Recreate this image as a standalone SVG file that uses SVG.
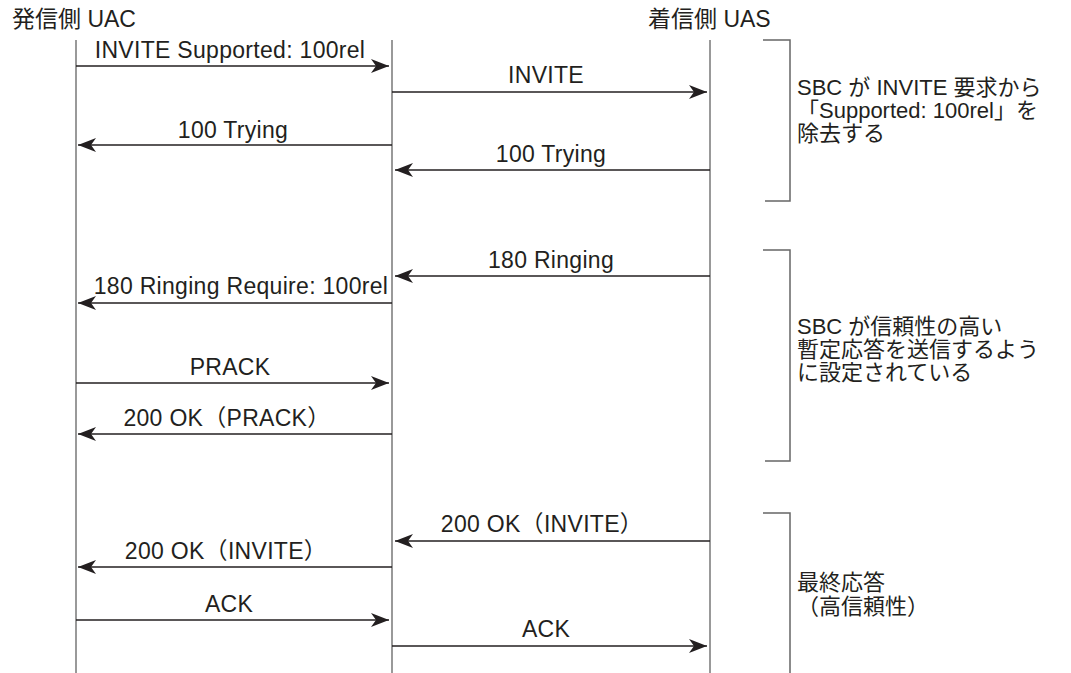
<svg xmlns="http://www.w3.org/2000/svg" width="1071" height="673" viewBox="0 0 1071 673">
<style>
text{font-family:"Liberation Sans","Noto Sans CJK JP",sans-serif;fill:#231f20}
.hdr{font-size:23px}
.lbl{font-size:23px;text-anchor:middle;letter-spacing:0.3px}
.note{font-size:22px}
.life{stroke:#555;stroke-width:1.2;fill:none}
.msg{stroke:#231f20;stroke-width:1.7;fill:none;marker-end:url(#ah)}
.brk{stroke:#666;stroke-width:1.5;fill:none}
</style>
<defs>
<marker id="ah" markerUnits="userSpaceOnUse" viewBox="0 0 19 15" refX="18" refY="7.5" markerWidth="19" markerHeight="15" orient="auto">
<path d="M18,7.5 L0,0.5 L5,7.5 L0,14.5 Z" fill="#231f20"/>
</marker>
</defs>
<rect width="1071" height="673" fill="#fff"/>
<g id="uac">
<text class="hdr" x="12" y="27">発信側 UAC</text>
<line class="life" x1="76" y1="40" x2="76" y2="673"/>
</g>
<g id="sbc">
<line class="life" x1="392" y1="40" x2="392" y2="673"/>
</g>
<g id="uas">
<text class="hdr" x="648" y="27">着信側 UAS</text>
<line class="life" x1="710" y1="40" x2="710" y2="673"/>
</g>
<g id="connectors">
<line class="msg" x1="76" y1="66" x2="389" y2="66"/>
<text class="lbl" x="230" y="58">INVITE Supported: 100rel</text>
<line class="msg" x1="392" y1="92" x2="707" y2="92"/>
<text class="lbl" x="546" y="83">INVITE</text>
<line class="msg" x1="392" y1="145" x2="78" y2="145"/>
<text class="lbl" x="233" y="138">100 Trying</text>
<line class="msg" x1="710" y1="170" x2="395" y2="170"/>
<text class="lbl" x="551" y="162">100 Trying</text>
<line class="msg" x1="710" y1="276" x2="395" y2="276"/>
<text class="lbl" x="551" y="268">180 Ringing</text>
<line class="msg" x1="392" y1="303" x2="78" y2="303"/>
<text class="lbl" x="241" y="294">180 Ringing Require: 100rel</text>
<line class="msg" x1="76" y1="383" x2="389" y2="383"/>
<text class="lbl" x="230" y="375">PRACK</text>
<line class="msg" x1="392" y1="434" x2="78" y2="434"/>
<text class="lbl" x="227" y="426">200 OK（PRACK）</text>
<line class="msg" x1="710" y1="541" x2="395" y2="541"/>
<text class="lbl" x="542" y="532">200 OK（INVITE）</text>
<line class="msg" x1="392" y1="567" x2="78" y2="567"/>
<text class="lbl" x="226" y="559">200 OK（INVITE）</text>
<line class="msg" x1="76" y1="620" x2="389" y2="620"/>
<text class="lbl" x="229" y="612">ACK</text>
<line class="msg" x1="392" y1="646" x2="707" y2="646"/>
<text class="lbl" x="546" y="637">ACK</text>
</g>
<g id="note1">
<path class="brk" d="M763,40 H790 V201 H765"/>
<text class="note" x="797" y="95">SBC が INVITE 要求から</text>
<text class="note" x="797" y="118">「Supported: 100rel」を</text>
<text class="note" x="797" y="141">除去する</text>
</g>
<g id="note2">
<path class="brk" d="M763,250 H790 V461 H765"/>
<text class="note" x="797" y="334">SBC が信頼性の高い</text>
<text class="note" x="797" y="357">暫定応答を送信するよう</text>
<text class="note" x="797" y="380">に設定されている</text>
</g>
<g id="note3">
<path class="brk" d="M763,513 H790 V673"/>
<text class="note" x="797" y="590">最終応答</text>
<text class="note" x="797" y="614">（高信頼性）</text>
</g>
</svg>
